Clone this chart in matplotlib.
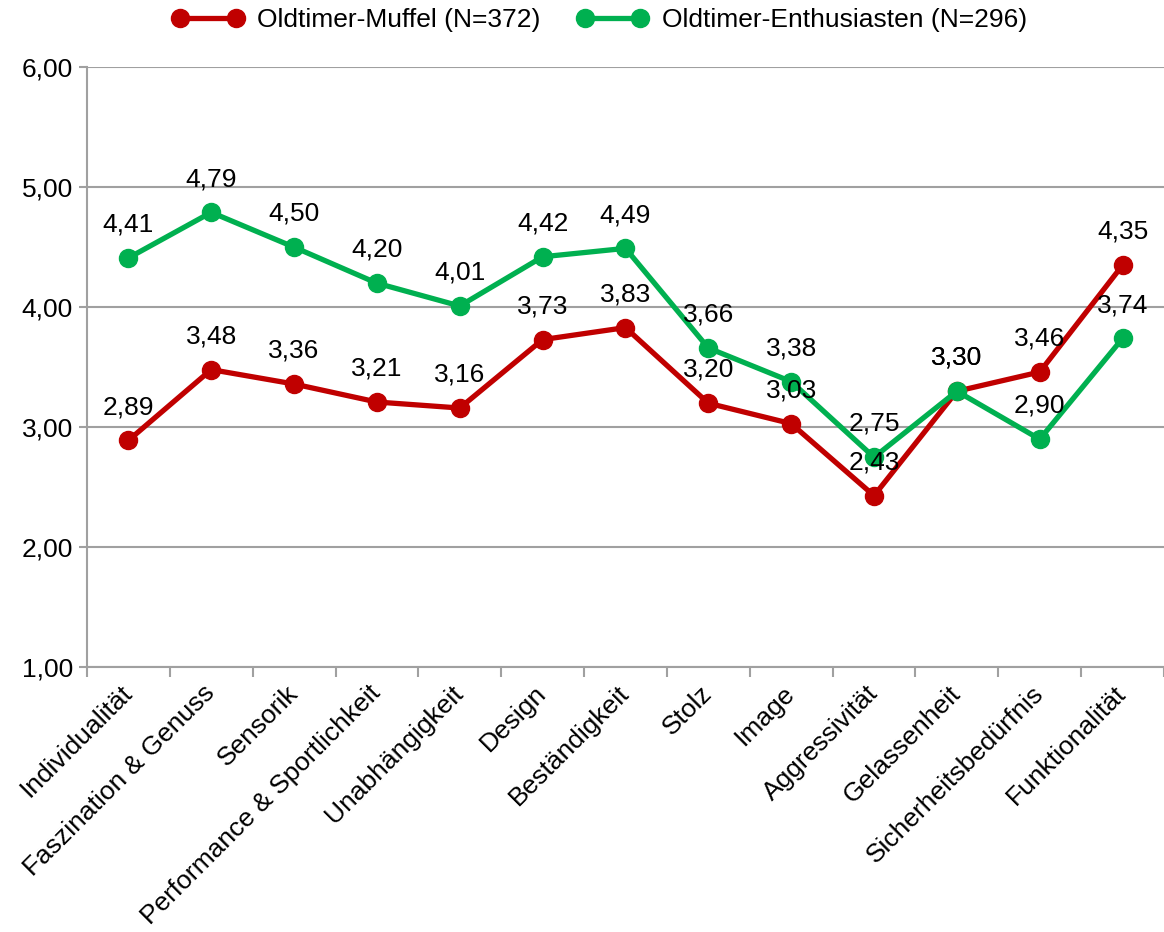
import matplotlib
matplotlib.use("Agg")
import matplotlib.pyplot as plt

categories = ["Individualität", "Faszination & Genuss", "Sensorik",
              "Performance & Sportlichkeit", "Unabhängigkeit", "Design",
              "Beständigkeit", "Stolz", "Image", "Aggressivität",
              "Gelassenheit", "Sicherheitsbedürfnis", "Funktionalität"]
muffel = [2.89, 3.48, 3.36, 3.21, 3.16, 3.73, 3.83, 3.20, 3.03, 2.43, 3.30, 3.46, 4.35]
enthusiasten = [4.41, 4.79, 4.50, 4.20, 4.01, 4.42, 4.49, 3.66, 3.38, 2.75, 3.30, 2.90, 3.74]
series_names = ["Oldtimer-Muffel (N=372)", "Oldtimer-Enthusiasten (N=296)"]
yticks = [1, 2, 3, 4, 5, 6]


def fmt(v):
    return f"{v:.2f}".replace(".", ",")


def main():
    plt.rcParams["font.family"] = ["Liberation Sans", "DejaVu Sans"]
    fig = plt.figure(figsize=(11.64, 9.32), dpi=100)
    ax = fig.add_axes([0.0747, 0.284, 0.9253, 0.644])

    grey = "#A0A0A0"
    fs = 19
    x = list(range(len(categories)))
    for vals, name, col in [(muffel, series_names[0], "#C00000"),
                            (enthusiasten, series_names[1], "#00B050")]:
        ax.plot(x, vals, color=col, lw=3.8, marker="o", ms=13,
                label=name, zorder=3)
        for xi, v in zip(x, vals):
            ax.annotate(fmt(v), (xi, v), xytext=(0, 24), textcoords="offset points",
                        ha="center", va="center", fontsize=fs, zorder=4)

    ax.set_xlim(-0.5, len(categories) - 0.5)
    ax.set_ylim(1, 6)
    ax.set_yticks(yticks)
    ax.set_yticklabels([fmt(v) for v in yticks], fontsize=fs)
    ax.yaxis.grid(True, color=grey, lw=1.5)
    ax.set_axisbelow(True)

    # category ticks sit between the categories, labels at the centres
    ax.set_xticks([i - 0.5 for i in range(len(categories) + 1)])
    ax.set_xticklabels([])
    ax.set_xticks(x, minor=True)
    ax.set_xticklabels(categories, minor=True, rotation=45, ha="right",
                       va="center", rotation_mode="anchor", fontsize=fs)
    ax.tick_params(axis="x", which="minor", length=0, pad=16)
    ax.tick_params(axis="x", which="major", length=7, width=1.5, color=grey)
    ax.tick_params(axis="y", length=6, width=1.5, color=grey, pad=4)

    for s in ["top", "right"]:
        ax.spines[s].set_visible(False)
    for s in ["left", "bottom"]:
        ax.spines[s].set_color(grey)
        ax.spines[s].set_linewidth(1.5)

    fig.legend(loc="center", bbox_to_anchor=(0.515, 1 - 20 / 932), ncol=2,
               frameon=False, fontsize=fs, numpoints=2, handlelength=2.7,
               handletextpad=0.5, columnspacing=1.4)

    plt.savefig("out.png", dpi=100)


if __name__ == "__main__":
    main()
